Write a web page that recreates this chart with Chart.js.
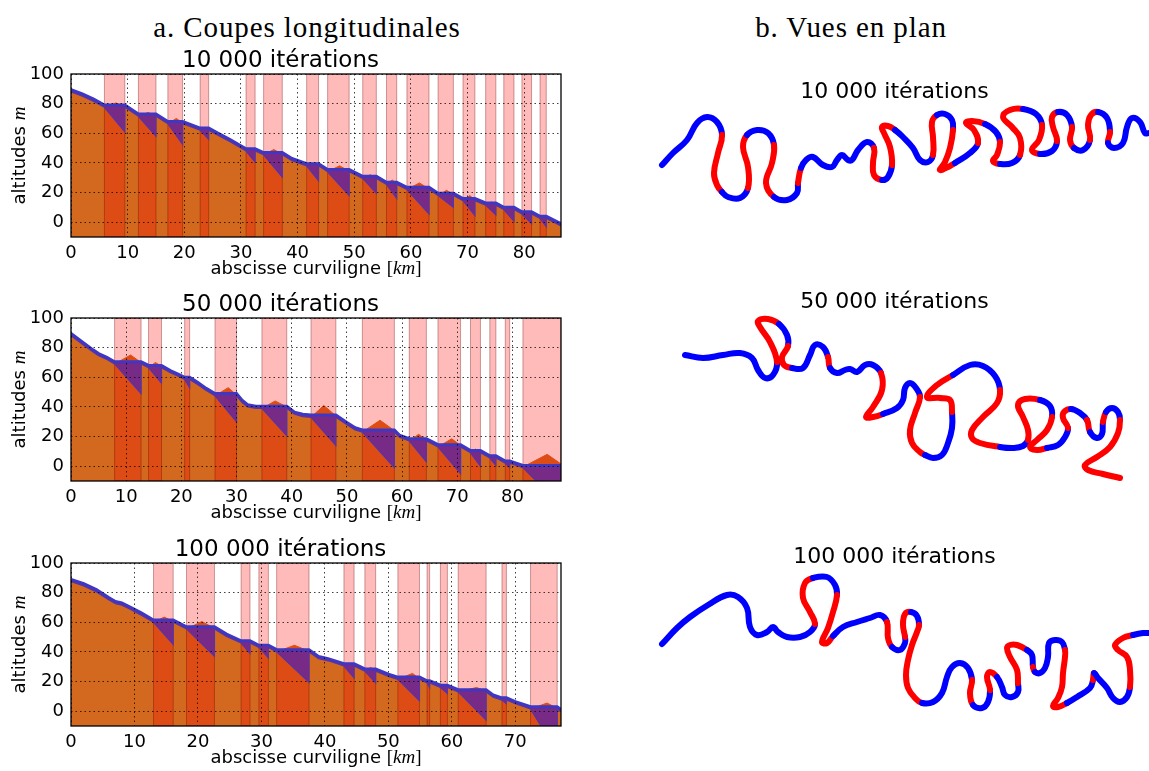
<!DOCTYPE html>
<html>
<head>
<meta charset="utf-8">
<script src="https://cdn.jsdelivr.net/npm/chart.js@4.4.1/dist/chart.umd.min.js"></script>
<style>
  body { margin: 0; background: #fff; width: 1149px; height: 771px; overflow: hidden; position: relative; }
  .hdr { position: absolute; top: 11px; line-height: 32px; font-family: "Liberation Serif", serif; font-size: 29px;
         letter-spacing: 0.9px; color: #000; white-space: nowrap; transform: translateX(-50%); }
  .box { position: absolute; }
</style>
</head>
<body>
<div class="hdr" style="left:307px">a. Coupes longitudinales</div>
<div class="hdr" style="left:851px">b. Vues en plan</div>

<div class="box" style="left:0;top:34px;width:632px;height:253px"><canvas id="prof1"></canvas></div>
<div class="box" style="left:0;top:278px;width:632px;height:253px"><canvas id="prof2"></canvas></div>
<div class="box" style="left:0;top:523px;width:632px;height:253px"><canvas id="prof3"></canvas></div>

<div class="box" style="left:640px;top:69px;width:509px;height:146px"><canvas id="plan1"></canvas></div>
<div class="box" style="left:640px;top:279px;width:509px;height:206px"><canvas id="plan2"></canvas></div>
<div class="box" style="left:640px;top:534px;width:509px;height:181px"><canvas id="plan3"></canvas></div>

<script>
'use strict';

/* ── Longitudinal profiles: [km, m] ─────────────────────────── */
const prof1Water = [[0,89.5],[2,86.5],[4,83],[5.9,79],[9.5,79],[11.9,73],[15,73],[17.1,68],[19.7,68],[22.8,63.5],[24.3,63.5],[26,60],[28,56],[30.9,49.5],[32.5,49.5],[34,47],[37.3,47],[39,43],[41.6,39.5],[43.7,39.5],[45.3,35.5],[49.1,35.5],[51.5,31],[53.9,31],[55.7,27],[57.5,27],[59.3,23.5],[63.2,23.5],[64.8,19.5],[67.5,19.5],[69.2,16],[71.3,16],[73.2,13],[75,13],[76.4,10],[78.2,10],[79.6,7],[81.3,7],[82.8,4],[83.9,4],[86.5,-1]];
const prof1Bed = [[0,88],[2,85],[4,81.5],[5.9,77.5],[9.5,61],[9.5,77.5],[11.9,71.5],[15,58],[15,71.5],[17.1,66.5],[19.7,52.5],[19.7,66.5],[22.8,62],[24.3,56],[24.3,62],[26,58.5],[28,54.5],[30.9,48],[32.5,40.5],[32.5,48],[34,45.5],[37.3,30.5],[37.3,45.5],[39,41.5],[41.6,38],[43.7,28],[43.7,38],[45.3,34],[49.1,18],[49.1,34],[51.5,29.5],[53.9,19.5],[53.9,29.5],[55.7,25.5],[57.5,16],[57.5,25.5],[59.3,22],[63.2,5.5],[63.2,22],[64.8,18],[67.5,10],[67.5,18],[69.2,14.5],[71.3,4.5],[71.3,14.5],[73.2,11.5],[75,5],[75,11.5],[76.4,8.5],[78.2,0.7],[78.2,8.5],[79.6,5.5],[81.3,-1],[81.3,5.5],[82.8,2.5],[83.9,-3],[83.9,2.5],[86.5,-2.5]];
const prof1Bank = [[0,88],[2,85],[4,81.5],[5.9,77.5],[7.9,80.5],[9.5,78],[11.9,71.5],[13.6,74],[15,72],[17.1,66.5],[18.6,70],[19.7,67],[22.8,62],[23.6,63],[24.3,62.5],[26,58.5],[28,54.5],[30.9,48],[31.8,49],[32.5,48.5],[34,45.5],[35.8,49],[37.3,46],[39,41.5],[41.6,38],[42.8,39],[43.7,38.5],[45.3,34],[47.4,38],[49.1,34.5],[51.5,29.5],[52.8,32],[53.9,30],[55.7,25.5],[56.7,28.5],[57.5,26],[59.3,22],[61.5,26.5],[63.2,22.5],[64.8,18],[66.3,21.5],[67.5,18.5],[69.2,14.5],[70.4,18],[71.3,15],[73.2,11.5],[74.2,13.5],[75,12],[76.4,8.5],[77.4,9.5],[78.2,9],[79.6,5.5],[80.5,7],[81.3,6],[82.8,2.5],[83.4,4],[83.9,3],[86.5,-2.5]];
const prof1Spans = [[5.9,9.5],[11.9,15],[17.1,19.7],[22.8,24.3],[30.9,32.5],[34,37.3],[41.6,43.7],[45.3,49.1],[51.5,53.9],[55.7,57.5],[59.3,63.2],[64.8,67.5],[69.2,71.3],[73.2,75],[76.4,78.2],[79.6,81.3],[82.8,83.9]];

const prof2Water = [[0,89.5],[2,84],[4,78.5],[5,76],[6.5,73.5],[7.9,70.5],[12.7,70.5],[14.05,68],[16.4,68],[18,64.5],[19.5,62],[20.6,60],[21.5,60],[23,56.5],[24.5,52.5],[26.1,49],[30,49],[31,44.5],[32,41.5],[33.5,40.5],[34.6,40.5],[39.1,40.5],[40.5,36.5],[42,35],[43.5,34.5],[48,34.5],[50,29.5],[51.5,26],[52.8,24.5],[58.6,24.5],[59.5,21],[61.3,18.5],[64.4,18.5],[66.5,14.5],[70.6,14.5],[72.4,10.5],[74.2,10.5],[75.9,7],[77,7],[78.7,3.5],[79.5,3.5],[81.9,0.5],[88.8,0.5]];
const prof2Bed = [[0,88],[2,82.5],[4,77],[5,74.5],[6.5,72],[7.9,69],[12.7,49],[12.7,69],[14.05,66.5],[16.4,56],[16.4,66.5],[18,63],[19.5,60.5],[20.6,58.5],[21.5,53],[21.5,58.5],[23,55],[24.5,51],[26.1,47.5],[30,30],[30,47.5],[31,43],[32,40],[33.5,39],[34.6,39],[39.1,20.5],[39.1,39],[40.5,35],[42,33.5],[43.5,33],[48,14],[48,33],[50,28],[51.5,24.5],[52.8,23],[58.6,-1],[58.6,23],[59.5,19.5],[61.3,17],[64.4,3],[64.4,17],[66.5,13],[70.6,-5],[70.6,13],[72.4,9],[74.2,0],[74.2,9],[75.9,5.5],[77,0.5],[77,5.5],[78.7,2],[79.5,-1],[79.5,2],[81.9,-1],[88.8,-27]];
const prof2Bank = [[0,88],[2,82.5],[4,77],[5,74.5],[6.5,72],[7.9,69],[10.8,75],[12.7,70],[14.05,66.5],[15.3,70],[16.4,67.5],[18,63],[19.5,60.5],[20.6,58.5],[21.1,59.5],[21.5,59],[23,55],[24.5,51],[26.1,47.5],[28.5,53],[30,48],[31,43],[32,40],[33.5,39],[34.6,39],[37,44],[39.1,40],[40.5,35],[42,33.5],[43.5,33],[45.8,41],[48,34],[50,28],[51.5,24.5],[52.8,23],[56,31],[58.6,24],[59.5,19.5],[61.3,17],[63,21.5],[64.4,17.5],[66.5,13],[69,18.5],[70.6,14],[72.4,9],[73.3,11.5],[74.2,9.5],[75.9,5.5],[76.5,7],[77,6],[78.7,2],[79.1,3.5],[79.5,2.5],[81.9,-0.5],[86.3,8],[88.8,1.5]];
const prof2Spans = [[7.9,12.7],[14.05,16.4],[20.6,21.5],[26.1,30],[34.6,39.1],[43.5,48],[52.8,58.6],[61.3,64.4],[66.5,70.6],[72.4,74.2],[75.9,77],[78.7,79.5],[81.9,88.8]];

const prof3Water = [[0,89],[2,86],[4,82],[6,76.5],[7,74],[8,73],[9,71],[11,66.5],[13,61.5],[16.1,61.5],[18.2,57],[22.6,57],[24.5,52],[26.8,47.5],[28.2,47.5],[29.6,44.5],[31.1,44.5],[32.4,41.5],[37.5,41.5],[39,37],[40.5,35.5],[43,32],[44.6,32],[46.3,28.5],[48,28.5],[50,25],[51.5,23],[54.9,23],[56.1,20.5],[56.5,20.5],[58.2,17.5],[59.3,17.5],[61,14.5],[65.4,14.5],[66.5,11],[67.9,9],[68.6,9],[70,6.5],[72.4,3],[76.6,3],[77.2,1]];
const prof3Bed = [[0,87.5],[2,84.5],[4,80.5],[6,75],[7,72.5],[8,71.5],[9,69.5],[11,65],[13,60],[16.1,45],[16.1,60],[18.2,55.5],[22.6,37],[22.6,55.5],[24.5,50.5],[26.8,46],[28.2,39],[28.2,46],[29.6,43],[31.1,36],[31.1,43],[32.4,40],[37.5,19.5],[37.5,40],[39,35.5],[40.5,34],[43,30.5],[44.6,22.5],[44.6,30.5],[46.3,27],[48,19],[48,27],[50,23.5],[51.5,21.5],[54.9,7],[54.9,21.5],[56.1,19],[56.5,16],[56.5,19],[58.2,16],[59.3,12],[59.3,16],[61,13],[65.4,-6],[65.4,13],[66.5,9.5],[67.9,7.5],[68.6,5],[68.6,7.5],[70,5],[72.4,1.5],[76.6,-28],[76.6,1.5],[77.2,-0.5]];
const prof3Bank = [[0,87.5],[2,84.5],[4,80.5],[6,75],[7,72.5],[8,71.5],[9,69.5],[11,65],[13,60],[14.7,63.5],[16.1,60.5],[18.2,55.5],[20.6,60.5],[22.6,56],[24.5,50.5],[26.8,46],[27.6,47],[28.2,46.5],[29.6,43],[30.4,44],[31.1,43.5],[32.4,40],[35.2,44.5],[37.5,40.5],[39,35.5],[40.5,34],[43,30.5],[43.9,31.5],[44.6,31],[46.3,27],[47.2,29.5],[48,27.5],[50,23.5],[51.5,21.5],[53.8,25.5],[54.9,22],[56.1,19],[56.5,19],[58.2,16],[58.8,17],[59.3,16],[61,13],[63.9,16],[65.4,13.5],[66.5,9.5],[67.9,7.5],[68.6,8],[70,5],[72.4,1.5],[75,5.5],[76.6,2],[77.2,-0.5]];
const prof3Spans = [[13,16.1],[18.2,22.6],[26.8,28.2],[29.6,31.1],[32.4,37.5],[43,44.6],[46.3,48],[51.5,54.9],[56.1,56.5],[58.2,59.3],[61,65.4],[67.9,68.6],[72.4,76.6]];

const xTicks80 = [0, 10, 20, 30, 40, 50, 60, 70, 80];
const xTicks70 = [0, 10, 20, 30, 40, 50, 60, 70];
const yTicks = [0, 20, 40, 60, 80, 100];

/* ── Plan views: [east, south, reach type] (B = straight, R = bend) ── */
const plan1 = [[22,61,'B'],[33,49,'B'],[47,36,'B'],[57,19,'B'],[67,13,'B'],[77,18,'B'],[82,31,'R'],[78,49,'R'],[74,69,'R'],[77,81,'R'],[82,88,'B'],[88,93,'B'],[100,94,'B'],[108,84,'R'],[108,63,'R'],[103,43,'R'],[107,31,'B'],[117,26,'B'],[128,29,'B'],[134,41,'R'],[132,59,'R'],[126,79,'R'],[134,93,'B'],[147,96,'B'],[157,89,'B'],[158,79,'R'],[161,64,'B'],[166,56,'B'],[173,53,'B'],[183,61,'B'],[192,63,'B'],[197,56,'B'],[202,51,'B'],[208,56,'B'],[212,56,'B'],[218,46,'B'],[227,38,'B'],[234,44,'R'],[233,59,'R'],[234,71,'R'],[242,76,'B'],[248,73,'B'],[252,61,'R'],[250,43,'R'],[244,29,'R'],[242,23,'R'],[248,22,'R'],[255,26,'B'],[263,33,'B'],[273,44,'B'],[280,56,'B'],[288,58,'B'],[293,51,'R'],[293,33,'R'],[292,18,'R'],[297,11,'B'],[305,10,'B'],[312,16,'B'],[313,26,'R'],[310,44,'R'],[305,58,'R'],[300,66,'R'],[310,62,'R'],[315,59,'B'],[330,49,'B'],[338,39,'R'],[334,26,'R'],[326,19,'R'],[332,17,'R'],[345,20,'B'],[356,28,'B'],[360,38,'R'],[357,51,'R'],[353,57,'R'],[360,60,'B'],[372,59,'B'],[380,51,'R'],[380,34,'R'],[372,23,'R'],[363,13,'R'],[370,6,'R'],[383,5,'B'],[396,10,'B'],[402,21,'R'],[399,36,'R'],[392,46,'R'],[400,50,'B'],[412,47,'B'],[417,37,'R'],[413,23,'R'],[412,13,'R'],[418,8,'B'],[427,11,'B'],[432,23,'R'],[430,36,'R'],[434,44,'B'],[443,46,'B'],[450,36,'R'],[448,21,'R'],[451,11,'R'],[458,8,'B'],[467,14,'B'],[470,28,'R'],[468,39,'B'],[474,44,'B'],[483,39,'B'],[487,23,'B'],[492,14,'B'],[500,18,'B'],[505,29,'B'],[509,29,'B']];
const plan2 = [[45,41,'B'],[63,44,'B'],[83,41,'B'],[100,39,'B'],[112,44,'B'],[118,56,'B'],[125,64,'B'],[133,61,'B'],[137,48,'R'],[130,28,'R'],[120,13,'R'],[118,7,'R'],[128,5,'R'],[139,10,'B'],[147,21,'B'],[148,32,'R'],[142,43,'R'],[144,51,'R'],[152,54,'B'],[163,54,'B'],[170,41,'B'],[175,31,'B'],[183,33,'B'],[188,43,'R'],[190,54,'B'],[197,59,'B'],[205,56,'B'],[210,55,'B'],[217,58,'B'],[225,51,'B'],[233,51,'B'],[241,59,'R'],[242,76,'R'],[233,93,'R'],[226,103,'R'],[233,103,'R'],[243,100,'B'],[257,94,'B'],[263,86,'B'],[265,74,'B'],[270,69,'B'],[276,74,'B'],[280,83,'R'],[275,99,'R'],[270,116,'R'],[272,129,'R'],[280,138,'R'],[285,141,'B'],[293,144,'B'],[302,141,'B'],[308,129,'B'],[312,114,'B'],[312,98,'R'],[310,86,'R'],[300,84,'R'],[287,83,'R'],[297,71,'R'],[313,61,'B'],[330,51,'B'],[343,52,'B'],[355,62,'B'],[360,76,'R'],[357,89,'R'],[343,103,'R'],[332,116,'R'],[332,124,'R'],[340,129,'R'],[360,133,'B'],[373,134,'B'],[383,132,'B'],[388,126,'R'],[388,116,'R'],[383,103,'R'],[378,91,'R'],[385,85,'R'],[400,86,'B'],[410,92,'B'],[412,103,'R'],[407,116,'R'],[397,126,'R'],[390,133,'R'],[397,136,'R'],[407,134,'B'],[418,131,'B'],[425,123,'B'],[428,114,'R'],[423,104,'R'],[424,98,'R'],[431,95,'B'],[440,99,'B'],[447,106,'R'],[450,118,'B'],[457,124,'B'],[462,120,'B'],[463,108,'R'],[466,98,'B'],[472,94,'B'],[478,98,'B'],[480,106,'R'],[478,119,'R'],[470,133,'R'],[457,143,'R'],[445,151,'R'],[448,156,'R'],[463,160,'R'],[480,164,'R']];
const plan3 = [[22,75,'B'],[37,59,'B'],[50,48,'B'],[68,36,'B'],[87,26,'B'],[98,28,'B'],[107,39,'B'],[110,58,'B'],[117,66,'B'],[127,63,'B'],[133,58,'B'],[138,63,'B'],[147,68,'B'],[160,68,'B'],[170,63,'B'],[175,55,'R'],[170,43,'R'],[163,29,'R'],[165,14,'R'],[173,9,'B'],[187,8,'B'],[195,16,'B'],[197,26,'R'],[193,43,'R'],[188,59,'R'],[182,73,'R'],[187,74,'R'],[193,67,'B'],[203,58,'B'],[217,53,'B'],[230,49,'B'],[240,46,'B'],[247,53,'R'],[248,69,'R'],[252,78,'B'],[260,81,'B'],[265,74,'B'],[265,68,'R'],[263,56,'R'],[265,45,'R'],[271,43,'B'],[277,47,'B'],[279,56,'R'],[277,63,'R'],[272,76,'R'],[268,91,'R'],[266,106,'R'],[268,119,'R'],[275,129,'R'],[282,134,'B'],[293,133,'B'],[302,124,'B'],[307,108,'B'],[312,98,'B'],[320,94,'B'],[328,99,'B'],[332,111,'R'],[330,124,'R'],[333,136,'B'],[342,139,'B'],[348,133,'B'],[350,121,'R'],[347,108,'R'],[350,103,'R'],[357,108,'B'],[362,118,'B'],[365,126,'B'],[372,128,'B'],[378,123,'B'],[378,114,'R'],[377,101,'R'],[370,88,'R'],[367,79,'R'],[370,76,'R'],[377,76,'R'],[387,81,'B'],[392,86,'B'],[393,98,'R'],[395,103,'B'],[400,104,'B'],[405,99,'B'],[408,88,'B'],[409,74,'B'],[415,71,'B'],[422,73,'B'],[425,81,'R'],[425,88,'R'],[423,104,'R'],[422,118,'R'],[418,129,'R'],[413,137,'R'],[418,138,'R'],[427,134,'B'],[437,128,'B'],[450,119,'B'],[453,111,'R'],[454,104,'B'],[458,109,'B'],[467,119,'B'],[473,129,'B'],[480,133,'B'],[487,128,'B'],[490,118,'R'],[490,101,'R'],[487,88,'R'],[478,81,'R'],[475,76,'R'],[483,69,'R'],[493,66,'B'],[503,64,'B'],[508,64,'B']];

/* ── Styles ─────────────────────────────────────────────────── */
const ORANGE = '#d2691e';
const PURPLE = '#782a87';
const WATER = '#3d37c4';
const BEDLINE = '#5634a8';
const RED = '#ff0000';
const BLUE = '#0000ff';
const SANS = '"DejaVu Sans", sans-serif';

const toXY = arr => arr.map(p => ({ x: p[0], y: p[1] }));

/* pink reaches drawn right after the bank fill */
const spansPlugin = {
    id: 'spans',
    afterDatasetDraw(chart, args, opts) {
        if (args.index !== 0 || !opts.spans) return;
        const { ctx, chartArea: a, scales: { x } } = chart;
        ctx.save();
        ctx.beginPath();
        ctx.rect(a.left, a.top, a.width, a.height);
        ctx.clip();
        for (const [s, e] of opts.spans) {
            const x0 = x.getPixelForValue(s), x1 = x.getPixelForValue(e);
            ctx.fillStyle = 'rgba(255,0,0,0.27)';
            ctx.fillRect(x0, a.top, x1 - x0, a.height);
            ctx.strokeStyle = 'rgba(110,0,0,0.35)';
            ctx.lineWidth = 1;
            ctx.strokeRect(x0, a.top, x1 - x0, a.height);
        }
        ctx.restore();
    }
};

function drawRuns(ctx, runs, cx, cy, rot) {
    ctx.save();
    ctx.translate(cx, cy);
    ctx.rotate(rot);
    ctx.textBaseline = 'middle';
    ctx.textAlign = 'left';
    ctx.fillStyle = '#000';
    let total = 0;
    for (const r of runs) { ctx.font = r[1]; total += ctx.measureText(r[0]).width; }
    let x = -total / 2;
    for (const r of runs) {
        ctx.font = r[1];
        ctx.fillText(r[0], x, 0);
        x += ctx.measureText(r[0]).width;
    }
    ctx.restore();
}

/* axes frame + axis labels with math-style units */
const frameText = {
    id: 'frameText',
    afterDraw(chart) {
        const { ctx, chartArea: a } = chart;
        ctx.save();
        ctx.strokeStyle = '#000';
        ctx.lineWidth = 1.3;
        ctx.strokeRect(a.left, a.top, a.width, a.height);
        ctx.restore();
        const sans = '18px ' + SANS;
        const rm = '19px "Liberation Serif", serif';
        const it = 'italic 19px "Liberation Serif", serif';
        drawRuns(ctx, [['abscisse curviligne ', sans], ['[', rm], ['km', it], [']', rm]],
            (a.left + a.right) / 2, a.bottom + 32, 0);
        drawRuns(ctx, [['altitudes ', sans], ['m', it]], 20, (a.top + a.bottom) / 2, -Math.PI / 2);
    }
};

function makeProfile(id, title, water, bed, bank, spans, xMax, xTicks) {
    return new Chart(document.getElementById(id), {
        type: 'line',
        data: {
            datasets: [
                { data: toXY(bank), order: 3, fill: 'start', backgroundColor: ORANGE, borderColor: ORANGE, borderWidth: 1, pointRadius: 0 },
                { data: toXY(bed), order: 1, fill: false, borderColor: BEDLINE, borderWidth: 1.2, pointRadius: 0 },
                { data: toXY(water), order: 2, fill: { target: 1 }, backgroundColor: PURPLE, borderColor: WATER, borderWidth: 3, pointRadius: 0 },
            ]
        },
        options: {
            animation: false, responsive: true, maintainAspectRatio: false,
            layout: { padding: { right: 71 } },
            scales: {
                x: {
                    type: 'linear', min: 0, max: xMax,
                    afterBuildTicks: s => { s.ticks = xTicks.map(v => ({ value: v })); },
                    afterFit: s => { s.height = 50; },
                    grid: { color: 'rgba(0,0,0,0.75)', lineWidth: 1, drawTicks: false, z: 1 },
                    border: { display: false, dash: [1.5, 3] },
                    ticks: { color: '#000', padding: 6, font: { family: SANS, size: 18 }, maxRotation: 0 }
                },
                y: {
                    min: -10, max: 100,
                    afterBuildTicks: s => { s.ticks = yTicks.map(v => ({ value: v })); },
                    afterFit: s => { s.width = 71; },
                    grid: { color: 'rgba(0,0,0,0.75)', lineWidth: 1, drawTicks: false, z: 1 },
                    border: { display: false, dash: [1.5, 3] },
                    ticks: { color: '#000', padding: 7, font: { family: SANS, size: 18 } }
                }
            },
            plugins: {
                legend: { display: false },
                tooltip: { enabled: false },
                title: { display: true, text: title, color: '#000',
                         font: { family: SANS, size: 23, weight: 'normal', lineHeight: '24px' },
                         padding: { top: 15, bottom: 1 } },
                spans: { spans }
            }
        },
        plugins: [spansPlugin, frameText]
    });
}

function makePlan(id, title, pts, h) {
    return new Chart(document.getElementById(id), {
        type: 'scatter',
        data: {
            datasets: [{
                data: toXY(pts), showLine: true, tension: 0.42, borderWidth: 6, pointRadius: 0,
                borderColor: BLUE, borderCapStyle: 'round', borderJoinStyle: 'round',
                segment: { borderColor: c => pts[c.p0DataIndex][2] === 'R' ? RED : BLUE }
            }]
        },
        options: {
            animation: false, responsive: true, maintainAspectRatio: false,
            layout: { padding: 0 },
            scales: {
                x: { display: false, min: 0, max: 509 },
                y: { display: false, min: 0, max: h, reverse: true }
            },
            plugins: {
                legend: { display: false },
                tooltip: { enabled: false },
                title: { display: true, text: title, color: '#000',
                         font: { family: SANS, size: 22, weight: 'normal', lineHeight: '24px' },
                         padding: { top: 11, bottom: 0 } }
            }
        }
    });
}

makeProfile('prof1', '10 000 itérations', prof1Water, prof1Bed, prof1Bank, prof1Spans, 86.5, xTicks80);
makeProfile('prof2', '50 000 itérations', prof2Water, prof2Bed, prof2Bank, prof2Spans, 88.8, xTicks80);
makeProfile('prof3', '100 000 itérations', prof3Water, prof3Bed, prof3Bank, prof3Spans, 77.2, xTicks70);

makePlan('plan1', '10 000 itérations', plan1, 111);
makePlan('plan2', '50 000 itérations', plan2, 171);
makePlan('plan3', '100 000 itérations', plan3, 146);
</script>
</body>
</html>
